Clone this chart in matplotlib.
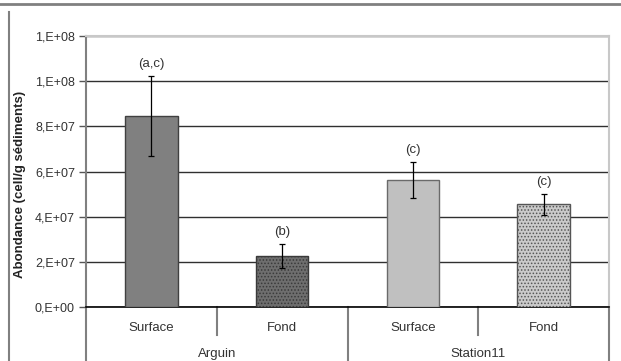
import matplotlib.pyplot as plt
from matplotlib.lines import Line2D
import numpy as np

plt.rcParams['font.family'] = ['Liberation Sans', 'DejaVu Sans']
plt.rcParams['hatch.linewidth'] = 0.7

# data
samples = ['Surface', 'Fond', 'Surface', 'Fond']
groups = ['Arguin', 'Station11']
abondance = [84.5e6, 22.7e6, 56.3e6, 45.4e6]
erreur = [17.8e6, 5.3e6, 8.0e6, 4.7e6]
lettres = ['(a,c)', '(b)', '(c)', '(c)']
yticks = [0, 2e7, 4e7, 6e7, 8e7, 1e8, 1.2e8]
ytick_labels = ['0,E+00', '2,E+07', '4,E+07', '6,E+07', '8,E+07', '1,E+08', '1,E+08']

faces = ['#808080', '#6e6e6e', '#c0c0c0', '#cacaca']
edges = ['#404040', '#3a3a3a', '#6a6a6a', '#555555']
hatches = [None, '.....', None, '.....']

fig = plt.figure(figsize=(6.21, 3.61), dpi=100)
ax = fig.add_axes([86/621, 1-307/361, (609-86)/621, (307-36)/361])

x = np.arange(len(samples))
for i in x:
    ax.bar(i, abondance[i], width=0.4, color=faces[i], edgecolor=edges[i],
           hatch=hatches[i], linewidth=1, zorder=3)
ax.errorbar(x, abondance, yerr=erreur, fmt='none', ecolor='black',
            elinewidth=0.9, capsize=2.5, capthick=0.9, zorder=4)
for i in x:
    ax.annotate(lettres[i], (i, abondance[i] + erreur[i]), xytext=(0, 8.5),
                textcoords='offset points', ha='center', va='center',
                fontsize=9.5, color='#333333')

ax.set_xlim(-0.5, 3.5)
ax.set_ylim(0, 1.2e8)
ax.set_yticks(yticks)
ax.set_yticklabels(ytick_labels)
ax.tick_params(axis='y', direction='out', length=5, width=1, color='#555555',
               labelsize=9, labelcolor='#333333', pad=3)
ax.set_xticks([])
ax.yaxis.grid(True, color='#303030', linewidth=1, zorder=0)
ax.set_axisbelow(True)

for side in ['top', 'right']:
    ax.spines[side].set_color('#c8c8c8')
    ax.spines[side].set_linewidth(1.5)
ax.spines['left'].set_color('#808080')
ax.spines['left'].set_linewidth(1.5)
ax.spines['bottom'].set_color('black')
ax.spines['bottom'].set_linewidth(1.2)

# category labels and group separators below the axis
trans = ax.get_xaxis_transform()
for i, s in enumerate(samples):
    ax.text(i, -0.077, s, transform=trans, ha='center', va='center',
            fontsize=9.5, color='#333333')
for k, g in enumerate(groups):
    ax.text(2*k + 0.5, -0.173, g, transform=trans, ha='center', va='center',
            fontsize=9.5, color='#333333')
for b in [-0.5, 0.5, 1.5, 2.5, 3.5]:
    low = -0.103 if b in (0.5, 2.5) else -0.2
    ax.add_line(Line2D([b, b], [0, low], transform=trans, color='#808080',
                       linewidth=1.5, clip_on=False))

fig.text(20/621, 1-184/361, 'Abondance (cell/g sédiments)', rotation=90,
         ha='center', va='center', fontsize=9.5, fontweight='bold', color='#222222')

# outer frame lines
fig.add_artist(Line2D([0, 1], [1-4/361, 1-4/361], color='#808080', linewidth=2))
fig.add_artist(Line2D([9/621, 9/621], [0, 1-12/361], color='#808080', linewidth=1.5))

fig.savefig('out.png', dpi=100)
